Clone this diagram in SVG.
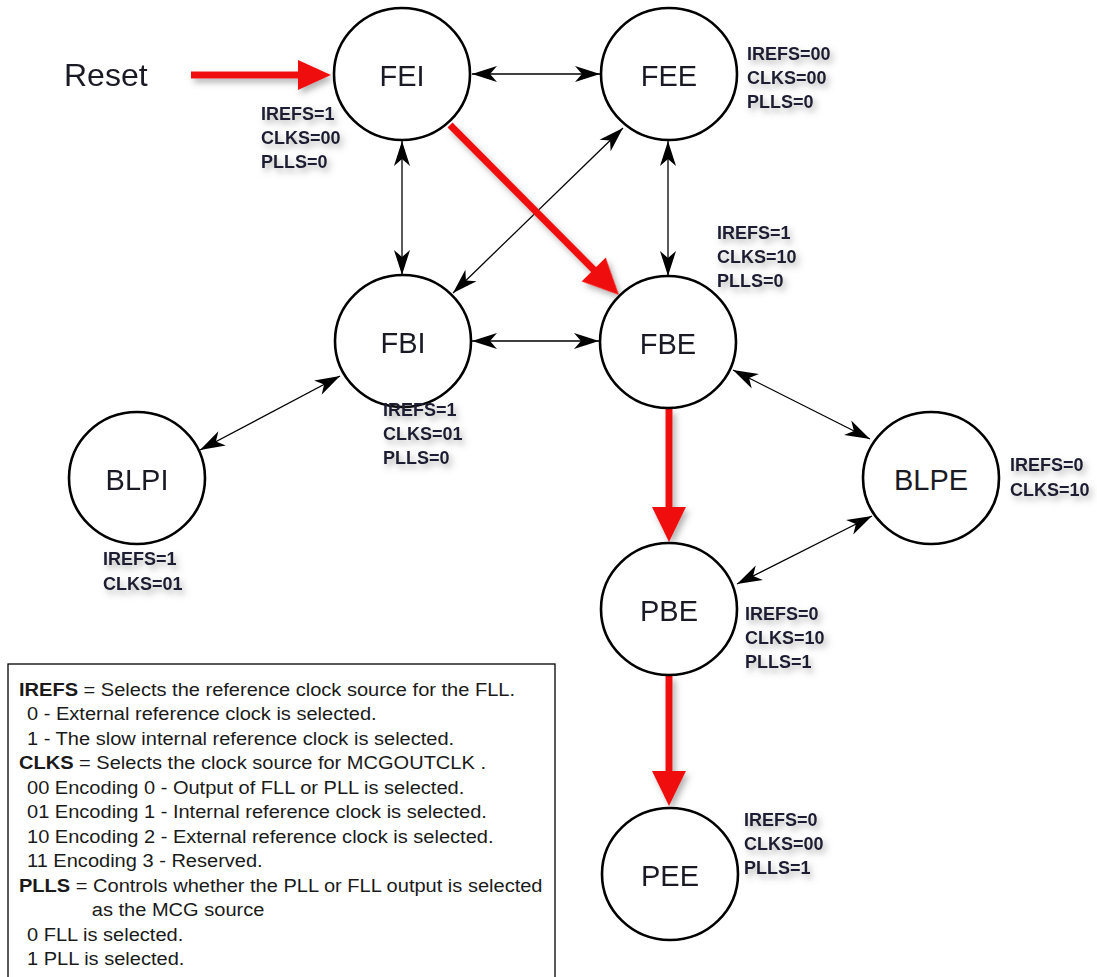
<svg xmlns="http://www.w3.org/2000/svg" width="1097" height="977" viewBox="0 0 1097 977">
<style>
.node{fill:#fff;stroke:#000;stroke-width:2.6}
.nlabel{font-family:"Liberation Sans",Arial,sans-serif;font-size:29px;fill:#1a1a24;text-anchor:middle}
.param{font-family:"Liberation Sans",Arial,sans-serif;font-size:18px;font-weight:bold;fill:#1c1c30}
.conn{stroke:#000;stroke-width:1.3;fill:none}
.red{stroke:#f01010;stroke-width:7;fill:none}
.redhead{fill:#f01010}
.legend{font-family:"Liberation Sans",Arial,sans-serif;font-size:19px;fill:#1a1a1a}
</style>
<defs>
<marker id="ah" markerUnits="userSpaceOnUse" viewBox="-27 -9 28 18" refX="0" refY="0" markerWidth="28" markerHeight="18" orient="auto-start-reverse">
<path d="M0,0 L-25,-8 L-18,0 L-25,8 Z" fill="#000"/>
</marker>
<filter id="sh" x="-20%" y="-30%" width="150%" height="170%">
<feDropShadow dx="3" dy="4" stdDeviation="3" flood-color="#666" flood-opacity="0.5"/>
</filter>
</defs>

<g id="connectors">
<line class="conn" x1="472" y1="74" x2="600" y2="74" marker-start="url(#ah)" marker-end="url(#ah)"/>
<line class="conn" x1="402" y1="141" x2="402" y2="275" marker-start="url(#ah)" marker-end="url(#ah)"/>
<line class="conn" x1="668" y1="141" x2="668" y2="276" marker-start="url(#ah)" marker-end="url(#ah)"/>
<line class="conn" x1="623" y1="128" x2="453" y2="293" marker-start="url(#ah)" marker-end="url(#ah)"/>
<line class="conn" x1="472" y1="341" x2="599" y2="341" marker-start="url(#ah)" marker-end="url(#ah)"/>
<line class="conn" x1="340" y1="376" x2="200" y2="450" marker-start="url(#ah)" marker-end="url(#ah)"/>
<line class="conn" x1="733" y1="370" x2="870" y2="439" marker-start="url(#ah)" marker-end="url(#ah)"/>
<line class="conn" x1="872" y1="516" x2="737" y2="584" marker-start="url(#ah)" marker-end="url(#ah)"/>
<g filter="url(#sh)">
<line class="red" x1="191" y1="75" x2="302" y2="75"/>
<polygon class="redhead" points="331,75 298,60 298,90"/>
<line class="red" x1="450" y1="125" x2="597" y2="273"/>
<g transform="translate(619,295) rotate(45.2)"><polygon class="redhead" points="0,0 -36,-17 -36,17"/></g>
<line class="red" x1="669" y1="409" x2="669" y2="510"/>
<polygon class="redhead" points="669,542 652,507 686,507"/>
<line class="red" x1="669" y1="676" x2="669" y2="774"/>
<polygon class="redhead" points="669,806 652,771 686,771"/>
</g>
</g>

<g id="reset"><text x="64" y="86" font-family="Liberation Sans,Arial,sans-serif" font-size="32" fill="#1a1a24">Reset</text></g>

<g id="FEI">
<ellipse class="node" cx="402" cy="74" rx="68" ry="66"/>
<text class="nlabel" x="402" y="86">FEI</text>
<g filter="url(#sh)"><text class="param" x="261" y="120">IREFS=1</text><text class="param" x="261" y="144">CLKS=00</text><text class="param" x="261" y="168">PLLS=0</text></g>
</g>
<g id="FEE">
<ellipse class="node" cx="669" cy="74" rx="68" ry="66"/>
<text class="nlabel" x="669" y="86">FEE</text>
<g filter="url(#sh)"><text class="param" x="747" y="60">IREFS=00</text><text class="param" x="747" y="84">CLKS=00</text><text class="param" x="747" y="108">PLLS=0</text></g>
</g>
<g id="FBI">
<ellipse class="node" cx="403" cy="341" rx="68" ry="66"/>
<text class="nlabel" x="403" y="353">FBI</text>
<g filter="url(#sh)"><text class="param" x="383" y="416">IREFS=1</text><text class="param" x="383" y="440">CLKS=01</text><text class="param" x="383" y="464">PLLS=0</text></g>
</g>
<g id="FBE">
<ellipse class="node" cx="668" cy="342" rx="68" ry="66"/>
<text class="nlabel" x="668" y="354">FBE</text>
<g filter="url(#sh)"><text class="param" x="717" y="239">IREFS=1</text><text class="param" x="717" y="263">CLKS=10</text><text class="param" x="717" y="287">PLLS=0</text></g>
</g>
<g id="BLPI">
<ellipse class="node" cx="137" cy="478" rx="68" ry="66"/>
<text class="nlabel" x="137" y="490">BLPI</text>
<g filter="url(#sh)"><text class="param" x="103" y="565">IREFS=1</text><text class="param" x="103" y="590">CLKS=01</text></g>
</g>
<g id="BLPE">
<ellipse class="node" cx="931" cy="478" rx="68" ry="66"/>
<text class="nlabel" x="931" y="490">BLPE</text>
<g filter="url(#sh)"><text class="param" x="1010" y="471">IREFS=0</text><text class="param" x="1010" y="496">CLKS=10</text></g>
</g>
<g id="PBE">
<ellipse class="node" cx="669" cy="609" rx="68" ry="66"/>
<text class="nlabel" x="669" y="621">PBE</text>
<g filter="url(#sh)"><text class="param" x="745" y="620">IREFS=0</text><text class="param" x="745" y="644">CLKS=10</text><text class="param" x="745" y="668">PLLS=1</text></g>
</g>
<g id="PEE">
<ellipse class="node" cx="670" cy="874" rx="68" ry="66"/>
<text class="nlabel" x="670" y="886">PEE</text>
<g filter="url(#sh)"><text class="param" x="744" y="826">IREFS=0</text><text class="param" x="744" y="850">CLKS=00</text><text class="param" x="744" y="874">PLLS=1</text></g>
</g>

<g id="legend">
<rect x="8" y="664" width="547" height="330" fill="#fff" stroke="#000" stroke-width="1.3"/>
<g transform="translate(19,0) scale(1.055,1)">
<text class="legend" x="0" y="696"><tspan font-weight="bold">IREFS</tspan> = Selects the reference clock source for the FLL.</text>
<text class="legend" x="7.6" y="720">0 - External reference clock is selected.</text>
<text class="legend" x="7.6" y="745">1 - The slow internal reference clock is selected.</text>
<text class="legend" x="0" y="769"><tspan font-weight="bold">CLKS</tspan> = Selects the clock source for MCGOUTCLK .</text>
<text class="legend" x="7.6" y="794">00 Encoding 0 - Output of FLL or PLL is selected.</text>
<text class="legend" x="7.6" y="818">01 Encoding 1 - Internal reference clock is selected.</text>
<text class="legend" x="7.6" y="843">10 Encoding 2 - External reference clock is selected.</text>
<text class="legend" x="7.6" y="867">11 Encoding 3 - Reserved.</text>
<text class="legend" x="0" y="892"><tspan font-weight="bold">PLLS</tspan> = Controls whether the PLL or FLL output is selected</text>
<text class="legend" x="69" y="916">as the MCG source</text>
<text class="legend" x="7.6" y="941">0 FLL is selected.</text>
<text class="legend" x="7.6" y="965">1 PLL is selected.</text>
</g>
</g>
</svg>
